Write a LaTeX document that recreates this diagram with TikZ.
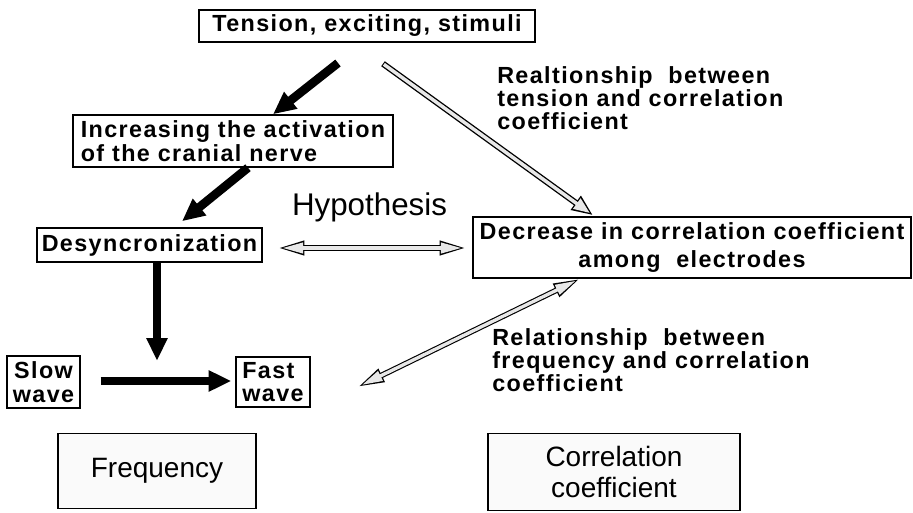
\documentclass[tikz,border=0pt]{standalone}
\usepackage{fontspec}
\setmainfont{Liberation Sans}
\newfontfamily\bfnt[LetterSpace=6]{Liberation Sans}
\usetikzlibrary{arrows.meta,calc}
\newcommand\bsz{\fontsize{17.5pt}{17.5pt}\selectfont}
\tikzset{
  box/.style={draw, line width=1.1pt, inner sep=0pt, font=\bfnt\bfseries\bsz, align=center},
  bigbox/.style={draw, line width=1.1pt, inner sep=0pt, fill=gray!4, font=\fontsize{21pt}{23pt}\selectfont, align=center},
  lbl/.style={font=\bfnt\bfseries\bsz, align=left, inner sep=0pt, anchor=north west},
  blk/.style={line width=6.5pt, -{Triangle[length=17pt,width=15pt]}},
  hout/.style={line width=4.6pt, black, -{Triangle[length=16pt,width=12pt]}},
  hin/.style={line width=2.6pt, gray!18, shorten >=2.8pt, shorten <=0.8pt, -{Triangle[length=12.2pt,width=9pt]}},
  houtd/.style={line width=4.2pt, black, {Triangle[length=20pt,width=10pt]}-{Triangle[length=20pt,width=10pt]}},
  hind/.style={line width=2.5pt, gray!18, shorten >=3.4pt, shorten <=3.4pt, {Triangle[length=15.6pt,width=7.6pt]}-{Triangle[length=15.6pt,width=7.6pt]}},
}
\begin{document}
\begin{tikzpicture}[x=0.75pt,y=-0.75pt]
\useasboundingbox (0,0) rectangle (913,513);
% boxes
\node[box, minimum width=252pt, minimum height=24pt] (tension) at (367,26) {Tension, exciting, stimuli};
\node[box, minimum width=240pt, minimum height=39pt, align=left] (incr) at (233,141) {Increasing the activation\\of the cranial nerve};
\node[box, minimum width=168.75pt, minimum height=25.5pt] (desync) at (149.5,245) {Desyncronization};
\node[box, minimum width=54.75pt, minimum height=39pt] (slow) at (43.5,382) {Slow\\wave};
\node[box, minimum width=55.5pt, minimum height=37.5pt, align=left] (fast) at (273,382) {Fast\\wave};
\node[box, minimum width=328.5pt, minimum height=45.75pt, font=\bfnt\bfseries\fontsize{17.5pt}{21pt}\selectfont] (decrease) at (692,247.5) {Decrease in correlation coefficient\\among\ \ electrodes};
\node[bigbox, minimum width=148.5pt, minimum height=56.25pt] (freq) at (157,471) {Frequency};
\node[bigbox, minimum width=189pt, minimum height=57.75pt] (corr) at (614,472) {Correlation\\coefficient};
% labels
\node[font=\fontsize{23.5pt}{24pt}\selectfont, inner sep=0pt] (hyp) at (369.5,207) {Hypothesis};
\node[lbl] (rel1) at (497,66) {Realtionship\ \ between\\tension and correlation\\coefficient};
\node[lbl] (rel2) at (492,328) {Relationship\ \ between\\frequency and correlation\\coefficient};
% black arrows
\coordinate (a1s) at (338,63);
\draw[blk] (a1s) -- ($(incr.north)+(40,0)$);
\draw[blk] ($(incr.south)+(15,0)$) -- ($(desync.north)+(32.5,-6)$);
\draw[blk] ($(desync.south)+(7.5,0)$) -- ($(desync.south)+(7.5,98)$);
\draw[blk] ($(slow.east)+(20,-1)$) -- ($(fast.west)+(-4,-1)$);
% hollow arrows
\draw[hout] ($(tension.south)+(16,21)$) -- ($(decrease.north)+(-99,-1)$);
\draw[hin] ($(tension.south)+(16,21)$) -- ($(decrease.north)+(-99,-1)$);
\draw[houtd] ($(desync.east)+(15,3)$) -- ($(decrease.west)+(-6,0.5)$);
\draw[hind] ($(desync.east)+(15,3)$) -- ($(decrease.west)+(-6,0.5)$);
\draw[houtd] ($(fast.east)+(47,5)$) -- ($(decrease.south)+(-112,0)$);
\draw[hind] ($(fast.east)+(47,5)$) -- ($(decrease.south)+(-112,0)$);
\end{tikzpicture}
\end{document}
